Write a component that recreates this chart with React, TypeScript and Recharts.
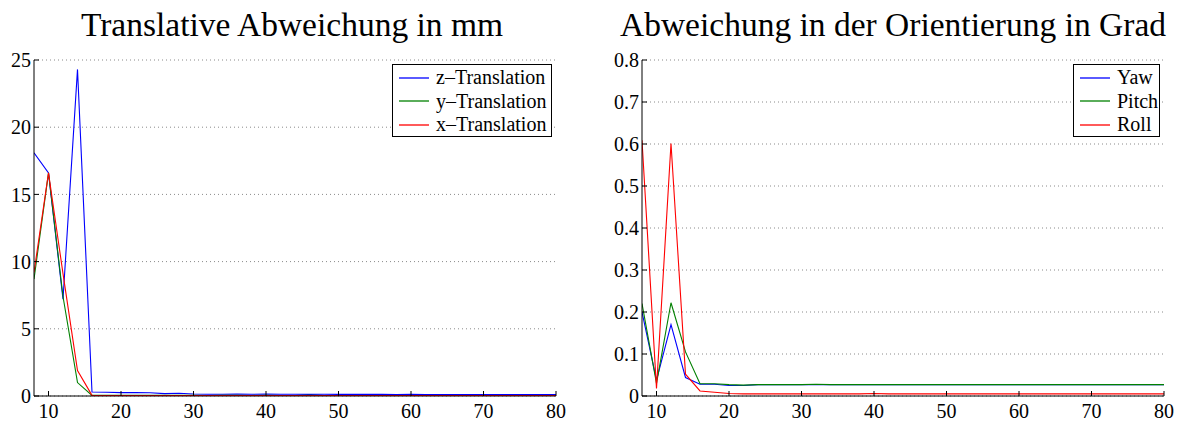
import React from 'react';
import { LineChart, Line, XAxis, YAxis, CartesianGrid } from 'recharts';

const xValues = [8, 10, 12, 14, 16, 18, 20, 22, 24, 26, 28, 30, 32, 34, 36, 38, 40, 42, 44, 46, 48, 50, 52, 54, 56, 58, 60, 62, 64, 66, 68, 70, 72, 74, 76, 78, 80];

const zTranslation = [18.1, 16.6, 7.2, 24.3, 0.3, 0.28, 0.25, 0.25, 0.24, 0.18, 0.2, 0.15, 0.13, 0.13, 0.14, 0.13, 0.14, 0.13, 0.13, 0.12, 0.13, 0.12, 0.12, 0.12, 0.12, 0.11, 0.12, 0.11, 0.11, 0.11, 0.11, 0.11, 0.1, 0.1, 0.1, 0.1, 0.1];
const yTranslation = [8.7, 16.6, 7.4, 1.0, 0.05, 0.06, 0.05, 0.05, 0.06, 0.05, 0.05, 0.05, 0.04, 0.05, 0.05, 0.04, 0.05, 0.04, 0.04, 0.05, 0.04, 0.04, 0.04, 0.04, 0.04, 0.04, 0.04, 0.04, 0.04, 0.04, 0.04, 0.04, 0.04, 0.04, 0.04, 0.04, 0.04];
const xTranslation = [9.2, 16.6, 9.1, 1.9, 0.05, 0.04, 0.03, 0.03, 0.03, 0.03, 0.03, 0.03, 0.03, 0.03, 0.03, 0.03, 0.03, 0.03, 0.03, 0.03, 0.03, 0.03, 0.03, 0.03, 0.03, 0.03, 0.03, 0.03, 0.03, 0.03, 0.03, 0.03, 0.03, 0.03, 0.03, 0.03, 0.03];

const yaw = [0.2, 0.038, 0.17, 0.044, 0.028, 0.028, 0.025, 0.025, 0.027, 0.027, 0.027, 0.027, 0.027, 0.027, 0.027, 0.027, 0.027, 0.027, 0.027, 0.027, 0.027, 0.027, 0.027, 0.027, 0.027, 0.027, 0.027, 0.027, 0.027, 0.027, 0.027, 0.027, 0.027, 0.027, 0.027, 0.027, 0.027];
const pitch = [0.22, 0.03, 0.222, 0.105, 0.029, 0.029, 0.027, 0.026, 0.027, 0.027, 0.027, 0.027, 0.028, 0.027, 0.027, 0.027, 0.027, 0.027, 0.027, 0.027, 0.027, 0.027, 0.027, 0.027, 0.027, 0.027, 0.027, 0.027, 0.027, 0.027, 0.027, 0.027, 0.027, 0.027, 0.027, 0.027, 0.027];
const roll = [0.609, 0.018, 0.601, 0.052, 0.012, 0.009, 0.006, 0.005, 0.005, 0.005, 0.005, 0.005, 0.005, 0.005, 0.005, 0.005, 0.006, 0.005, 0.005, 0.005, 0.005, 0.005, 0.005, 0.005, 0.005, 0.005, 0.005, 0.005, 0.005, 0.005, 0.005, 0.005, 0.005, 0.005, 0.005, 0.005, 0.005];

const xTicks = [10, 20, 30, 40, 50, 60, 70, 80];
const leftYTicks = [0, 5, 10, 15, 20, 25];
const rightYTicks = [0, 0.1, 0.2, 0.3, 0.4, 0.5, 0.6, 0.7, 0.8];

const leftTitle = 'Translative Abweichung in mm';
const rightTitle = 'Abweichung in der Orientierung in Grad';

const leftSeries = [
  { key: 'zTrans', name: 'z\u2013Translation', color: '#0000ff', values: zTranslation },
  { key: 'yTrans', name: 'y\u2013Translation', color: '#008000', values: yTranslation },
  { key: 'xTrans', name: 'x\u2013Translation', color: '#ff0000', values: xTranslation },
];
const rightSeries = [
  { key: 'yaw', name: 'Yaw', color: '#0000ff', values: yaw },
  { key: 'pitch', name: 'Pitch', color: '#008000', values: pitch },
  { key: 'roll', name: 'Roll', color: '#ff0000', values: roll },
];

const buildRows = (series: typeof leftSeries) =>
  xValues.map((step, i) => {
    const row: Record<string, number> = { step };
    series.forEach((s) => {
      row[s.key] = s.values[i];
    });
    return row;
  });

const leftData = buildRows(leftSeries);
const rightData = buildRows(rightSeries);

const FONT = '"Liberation Serif", "DejaVu Serif", serif';
const tickStyle = { fontSize: 20, fontFamily: FONT, fill: '#000' };

const LegendBox = ({ series, left, width }: { series: typeof leftSeries; left: number; width: number }) => (
  <div
    style={{
      position: 'absolute',
      left,
      top: 64,
      width,
      height: 70,
      border: '1.5px solid #000',
      background: '#fff',
      paddingTop: 1,
      fontFamily: FONT,
      fontSize: 20,
      color: '#000',
    }}
  >
    {series.map((s) => (
      <div key={s.key} style={{ display: 'flex', alignItems: 'center', height: 23.5, whiteSpace: 'nowrap' }}>
        <svg width={36} height={6} style={{ marginLeft: 5, marginRight: 2 }}>
          <line x1={1} y1={3} x2={31} y2={3} stroke={s.color} strokeWidth={1.3} />
        </svg>
        <span style={{ lineHeight: '23px' }}>{s.name}</span>
      </div>
    ))}
  </div>
);

type PanelProps = {
  left: number;
  width: number;
  yAxisWidth: number;
  rightMargin: number;
  data: Record<string, number>[];
  series: typeof leftSeries;
  yDomain: [number, number];
  yTicks: number[];
  legendLeft: number;
  legendWidth: number;
  title: string;
  titleCenter: number;
};

const Panel = (p: PanelProps) => (
  <>
    <div
      style={{
        position: 'absolute',
        left: p.titleCenter - 400,
        width: 800,
        top: 8,
        textAlign: 'center',
        fontFamily: FONT,
        fontSize: 33.5,
        lineHeight: '33px',
        color: '#000',
        whiteSpace: 'nowrap',
      }}
    >
      {p.title}
    </div>
    <div style={{ position: 'absolute', left: p.left, top: 0 }}>
      <LineChart width={p.width} height={422} data={p.data} margin={{ top: 60, right: p.rightMargin, bottom: 0, left: 0 }}>
        <CartesianGrid vertical={false} stroke="#8a8a8a" strokeDasharray="1 3" />
        <XAxis
          dataKey="step"
          type="number"
          domain={[8, 80]}
          ticks={xTicks}
          allowDataOverflow
          height={26}
          tickSize={-5}
          tickMargin={13}
          tick={tickStyle}
          axisLine={{ stroke: '#000', strokeWidth: 1 }}
          tickLine={{ stroke: '#000' }}
          interval={0}
        />
        <YAxis
          type="number"
          domain={p.yDomain}
          ticks={p.yTicks}
          allowDataOverflow
          width={p.yAxisWidth}
          tickSize={-5}
          tickMargin={8}
          tick={tickStyle}
          axisLine={{ stroke: '#000', strokeWidth: 1 }}
          tickLine={{ stroke: '#000' }}
          interval={0}
        />
        {p.series.map((s) => (
          <Line
            key={s.key}
            dataKey={s.key}
            name={s.name}
            type="linear"
            stroke={s.color}
            strokeWidth={1.1}
            dot={false}
            activeDot={false}
            isAnimationActive={false}
          />
        ))}
      </LineChart>
    </div>
    <LegendBox series={p.series} left={p.legendLeft} width={p.legendWidth} />
  </>
);

export default function App() {
  return (
    <div style={{ position: 'absolute', left: 0, top: 0, width: 1185, height: 422, background: '#fff', overflow: 'hidden' }}>
      <Panel
        left={0}
        width={590}
        yAxisWidth={34}
        rightMargin={34}
        data={leftData}
        series={leftSeries}
        yDomain={[0, 25]}
        yTicks={leftYTicks}
        legendLeft={392}
        legendWidth={158}
        title={leftTitle}
        titleCenter={292}
      />
      <Panel
        left={590}
        width={595}
        yAxisWidth={52}
        rightMargin={21}
        data={rightData}
        series={rightSeries}
        yDomain={[0, 0.8]}
        yTicks={rightYTicks}
        legendLeft={1073}
        legendWidth={85}
        title={rightTitle}
        titleCenter={893}
      />
    </div>
  );
}
